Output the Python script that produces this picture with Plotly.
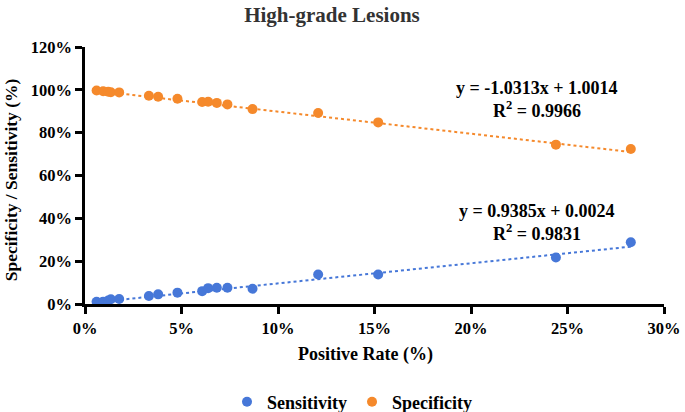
import plotly.graph_objects as go

# Positive rate (%) for each sample
positive_rate = [0.60, 0.94, 1.20, 1.34, 1.77, 3.31, 3.79, 4.79, 6.07, 6.38, 6.83, 7.38, 8.68, 12.08, 15.19, 24.40, 28.28]
# Sensitivity (%)
sensitivity = [1.0, 1.1, 1.6, 2.2, 2.3, 3.7, 4.5, 5.3, 6.0, 7.4, 7.6, 7.6, 7.1, 13.8, 13.8, 21.7, 28.8]
# Specificity (%)
specificity = [99.7, 99.3, 99.1, 98.9, 98.8, 97.2, 96.8, 95.8, 94.3, 94.4, 93.9, 93.2, 91.0, 89.2, 84.8, 74.4, 72.4]

# Trendline coefficients (fraction units) and labels
sens_fit = (0.9385, 0.0024)
spec_fit = (-1.0313, 1.0014)
sens_eq = ["y = 0.9385x + 0.0024", "R<sup>2</sup> = 0.9831"]
spec_eq = ["y = -1.0313x + 1.0014", "R<sup>2</sup> = 0.9966"]

x_ticks = [0, 5, 10, 15, 20, 25, 30]
x_labels = ["0%", "5%", "10%", "15%", "20%", "25%", "30%"]
y_ticks = [0, 20, 40, 60, 80, 100, 120]
y_labels = ["0%", "20%", "40%", "60%", "80%", "100%", "120%"]

BLUE = "#4677D8"
ORANGE = "#F5892B"
FONT = "Liberation Serif"

xmin, xmax = min(positive_rate), max(positive_rate)

def line(fit):
    a, b = fit
    return [100 * (a * x / 100 + b) for x in (xmin, xmax)]

fig = go.Figure()
fig.add_trace(go.Scatter(x=[xmin, xmax], y=line(sens_fit), mode="lines",
                         line=dict(color=BLUE, width=2, dash="dot"), showlegend=False, hoverinfo="skip"))
fig.add_trace(go.Scatter(x=[xmin, xmax], y=line(spec_fit), mode="lines",
                         line=dict(color=ORANGE, width=2, dash="dot"), showlegend=False, hoverinfo="skip"))
fig.add_trace(go.Scatter(x=positive_rate, y=sensitivity, mode="markers", name="<b>Sensitivity</b>",
                         marker=dict(color=BLUE, size=10), cliponaxis=False))
fig.add_trace(go.Scatter(x=positive_rate, y=specificity, mode="markers", name="<b>Specificity</b>",
                         marker=dict(color=ORANGE, size=10), cliponaxis=False))

W, H = 685, 412
ml, mr, mt, mb = 84.5, W - 664, 47, H - 304.5
PW, PH = W - ml - mr, H - mt - mb

def bold(labels):
    return ["<b>%s</b>" % s for s in labels]

tickfont = dict(family=FONT, size=16.5, color="black")
axis_common = dict(showgrid=False, zeroline=False, showline=True, linecolor="black", linewidth=2.5,
                   ticks="outside", ticklen=7, tickwidth=2.5, tickcolor="black", automargin=False,
                   tickmode="array", tickfont=tickfont)

fig.update_layout(
    template="none",
    width=W, height=H,
    margin=dict(l=ml, r=mr, t=mt, b=mb, autoexpand=False),
    paper_bgcolor="white", plot_bgcolor="white",
    font=dict(family=FONT, color="black", size=16),
    title=dict(text="<b>High-grade Lesions</b>", x=332 / W, xanchor="center", y=1 - 15 / H, yanchor="middle",
               font=dict(family=FONT, size=21, color="#333333")),
    xaxis=dict(range=[0, 30], tickvals=x_ticks, ticktext=bold(x_labels), **axis_common),
    yaxis=dict(range=[0, 120], tickvals=y_ticks, ticktext=bold(y_labels), **axis_common),
    legend=dict(orientation="h", xref="container", x=352 / W, xanchor="center",
                yref="container", y=1 - 402 / H, yanchor="middle",
                font=dict(family=FONT, size=18, color="black")),
    showlegend=True,
)

# Axis titles
fig.add_annotation(text="<b>Positive Rate (%)</b>", xref="paper", yref="paper",
                   x=(365 - ml) / PW, y=(mt + PH - 355) / PH, xanchor="center", yanchor="middle",
                   showarrow=False, font=dict(family=FONT, size=18, color="black"))
fig.add_annotation(text="<b>Specificity / Sensitivity (%)</b>", xref="paper", yref="paper",
                   x=(10 - ml) / PW, y=(mt + PH - 180) / PH, xanchor="center", yanchor="middle",
                   textangle=-90, showarrow=False, font=dict(family=FONT, size=17.5, color="black"))

for eq, yc in ((spec_eq, (88, 110)), (sens_eq, (211, 233))):
    for txt, yp in zip(eq, yc):
        fig.add_annotation(text="<b>%s</b>" % txt, xref="paper", yref="paper",
                           x=(537 - ml) / PW, y=(mt + PH - yp) / PH,
                           xanchor="center", yanchor="middle", showarrow=False,
                           font=dict(family=FONT, size=18, color="black"))

fig.write_html("out.html", config={"displayModeBar": False},
               post_script="document.body.style.margin='0px';")
